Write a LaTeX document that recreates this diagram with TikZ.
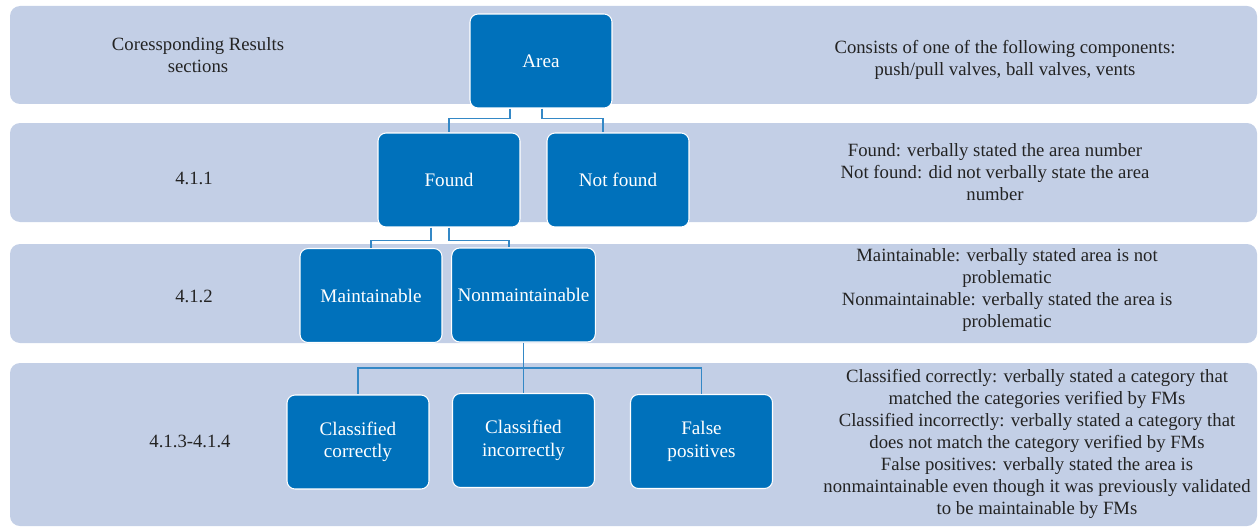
\documentclass[tikz,border=0pt]{standalone}
\usepackage{fontspec}
\setmainfont{Liberation Serif}
\definecolor{bandblue}{RGB}{195,207,230}
\definecolor{boxblue}{RGB}{0,113,187}
\definecolor{linkblue}{RGB}{52,136,198}
\definecolor{notegray}{RGB}{35,35,35}
\tikzset{
    band/.style={fill=bandblue, rounded corners=0.2cm},
    catbox/.style={draw=white, line width=0.6pt, fill=boxblue, rounded corners=0.16cm,
        minimum width=2.84cm, minimum height=1.88cm, align=center, text=white,
        font=\fontsize{10.9}{12.8}\selectfont},
    note/.style={align=center, text=notegray, font=\fontsize{10.65}{12.5}\selectfont},
    link/.style={draw=linkblue, line width=0.7pt}
}
\begin{document}
\begin{tikzpicture}[x=0.02cm,y=-0.02cm]
                \useasboundingbox (0,0) rectangle (1260,527);
                %\draw[help lines] (0,0) grid (1260,527);
                \fill[band] (10,6) rectangle (1257,104);
                \fill[band] (10,123) rectangle (1257,222);
                \fill[band] (10,244) rectangle (1257,343);
                \fill[band] (10,363) rectangle (1257,526);
                \node[note] (hdr) at (198,55) {Coressponding Results\\sections};
                \node[note] (sec1) at (194,178) {4.1.1};
                \node[note] (sec2) at (194,296) {4.1.2};
                \node[note] (sec3) at (190,441) {4.1.3-4.1.4};
                \node[catbox] (area) at (541,61) {Area};
                \node[catbox] (found) at (449,180) {Found};
                \node[catbox] (notfound) at (618,180) {Not found};
                \node[catbox] (maint) at (371,295.5) {Maintainable};
                \node[catbox] (nonmaint) at (523.5,295) {Nonmaintainable};
                \node[catbox] (classcor) at (358,442) {Classified\\correctly};
                \node[catbox] (classinc) at (523.5,440.5) {Classified\\incorrectly};
                \node[catbox] (falsepos) at (701.5,441.5) {False\\positives};
                \node[note] (def0) at (1005,60) {Consists of one of the following components:\\push/pull valves, ball valves, vents};
                \node[note] (def1) at (995,172) {Found: verbally stated the area number\\Not found: did not verbally state the area\\number};
                \node[note] (def2) at (1007,290) {Maintainable: verbally stated area is not\\problematic\\Nonmaintainable: verbally stated the area is\\problematic};
                \node[note] (def3) at (1037,444) {Classified correctly: verbally stated a category that\\matched the categories verified by FMs\\Classified incorrectly: verbally stated a category that\\does not match the category verified by FMs\\False positives: verbally stated the area is\\nonmaintainable even though it was previously validated\\to be maintainable by FMs};
                \coordinate (split) at (523.5,368);
                \draw[link] ([xshift=-0.62cm]area.south) -- ++(0,-0.2cm) -| (found.north);
                \draw[link] ([xshift=0.02cm]area.south) -- ++(0,-0.2cm) -| ([xshift=-0.3cm]notfound.north);
                \draw[link] ([xshift=-0.36cm]found.south) -- ++(0,-0.26cm) -| (maint.north);
                \draw[link] (found.south) -- ++(0,-0.26cm) -| ([xshift=-0.29cm]nonmaint.north);
                \draw[link] (nonmaint.south) -- (classinc.north);
                \draw[link] (split) -| (classcor.north);
                \draw[link] (split) -| (falsepos.north);
\end{tikzpicture}
\end{document}
